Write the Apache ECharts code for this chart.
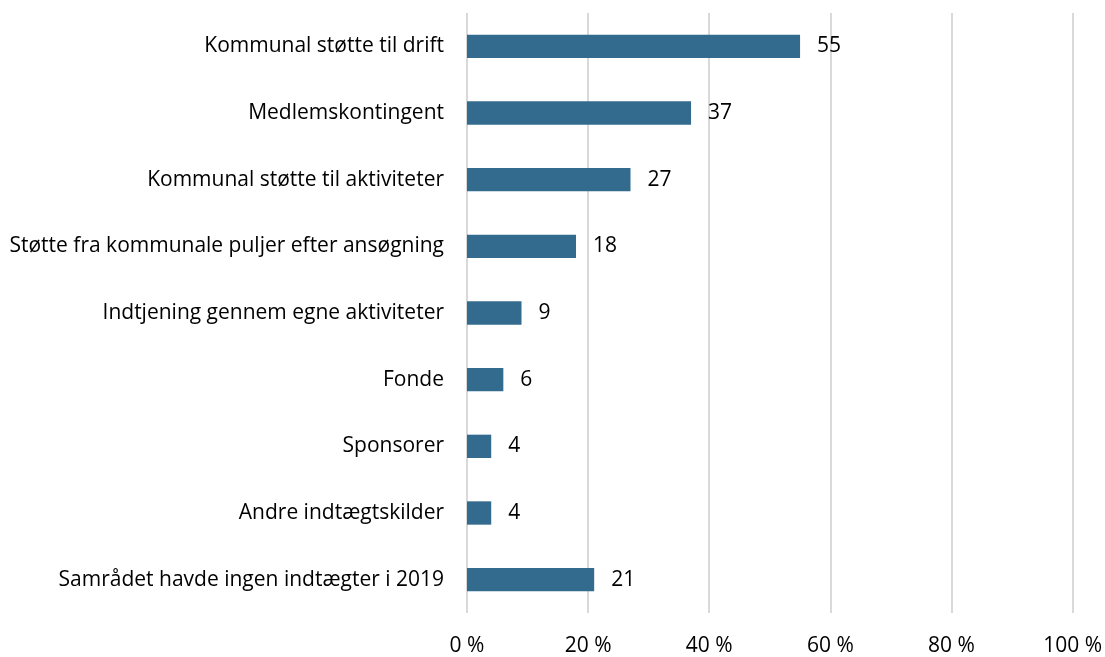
<!DOCTYPE html>
<html>
<head>
<meta charset="utf-8">
<script src="https://cdn.jsdelivr.net/npm/echarts@6/dist/echarts.min.js"></script>
<style>
	html, body { margin: 0; padding: 0; background: #fff; }
	#chart { width: 1105px; height: 657px; }
</style>
</head>
<body>
<div id="chart"></div>
<script>
// kategorier, oppefra og ned
const categories = [
	'Kommunal støtte til drift',
	'Medlemskontingent',
	'Kommunal støtte til aktiviteter',
	'Støtte fra kommunale puljer efter ansøgning',
	'Indtjening gennem egne aktiviteter',
	'Fonde',
	'Sponsorer',
	'Andre indtægtskilder',
	'Samrådet havde ingen indtægter i 2019'
];
const values = [55, 37, 27, 18, 9, 6, 4, 4, 21];
const xTicks = [0, 20, 40, 60, 80, 100];

const font = 'Open Sans';
const size = 21;

let chart = echarts.init(document.getElementById('chart'));
chart.setOption({
	animation: false,
	grid: { left: 467, right: 31, top: 13, bottom: 42 },
	xAxis: {
		type: 'value',
		min: xTicks[0],
		max: xTicks[xTicks.length - 1],
		interval: xTicks[1] - xTicks[0],
		axisLine: { show: false },
		axisTick: { show: false },
		splitLine: { lineStyle: { color: '#d9d9d9', width: 2 } },
		axisLabel: {
			formatter: '{value} %',
			color: '#000',
			fontFamily: font,
			fontSize: size,
			margin: 23
		}
	},
	yAxis: {
		type: 'category',
		inverse: true,
		data: categories,
		axisLine: { show: false },
		axisTick: { show: false },
		axisLabel: {
			color: '#000',
			fontFamily: font,
			fontSize: size,
			margin: 23
		}
	},
	series: [{
		type: 'bar',
		data: values,
		barCategoryGap: '65%',
		itemStyle: { color: '#336b8f' },
		label: {
			show: true,
			position: 'right',
			distance: 17,
			color: '#000',
			fontFamily: font,
			fontSize: size
		}
	}]
});
</script>
</body>
</html>
